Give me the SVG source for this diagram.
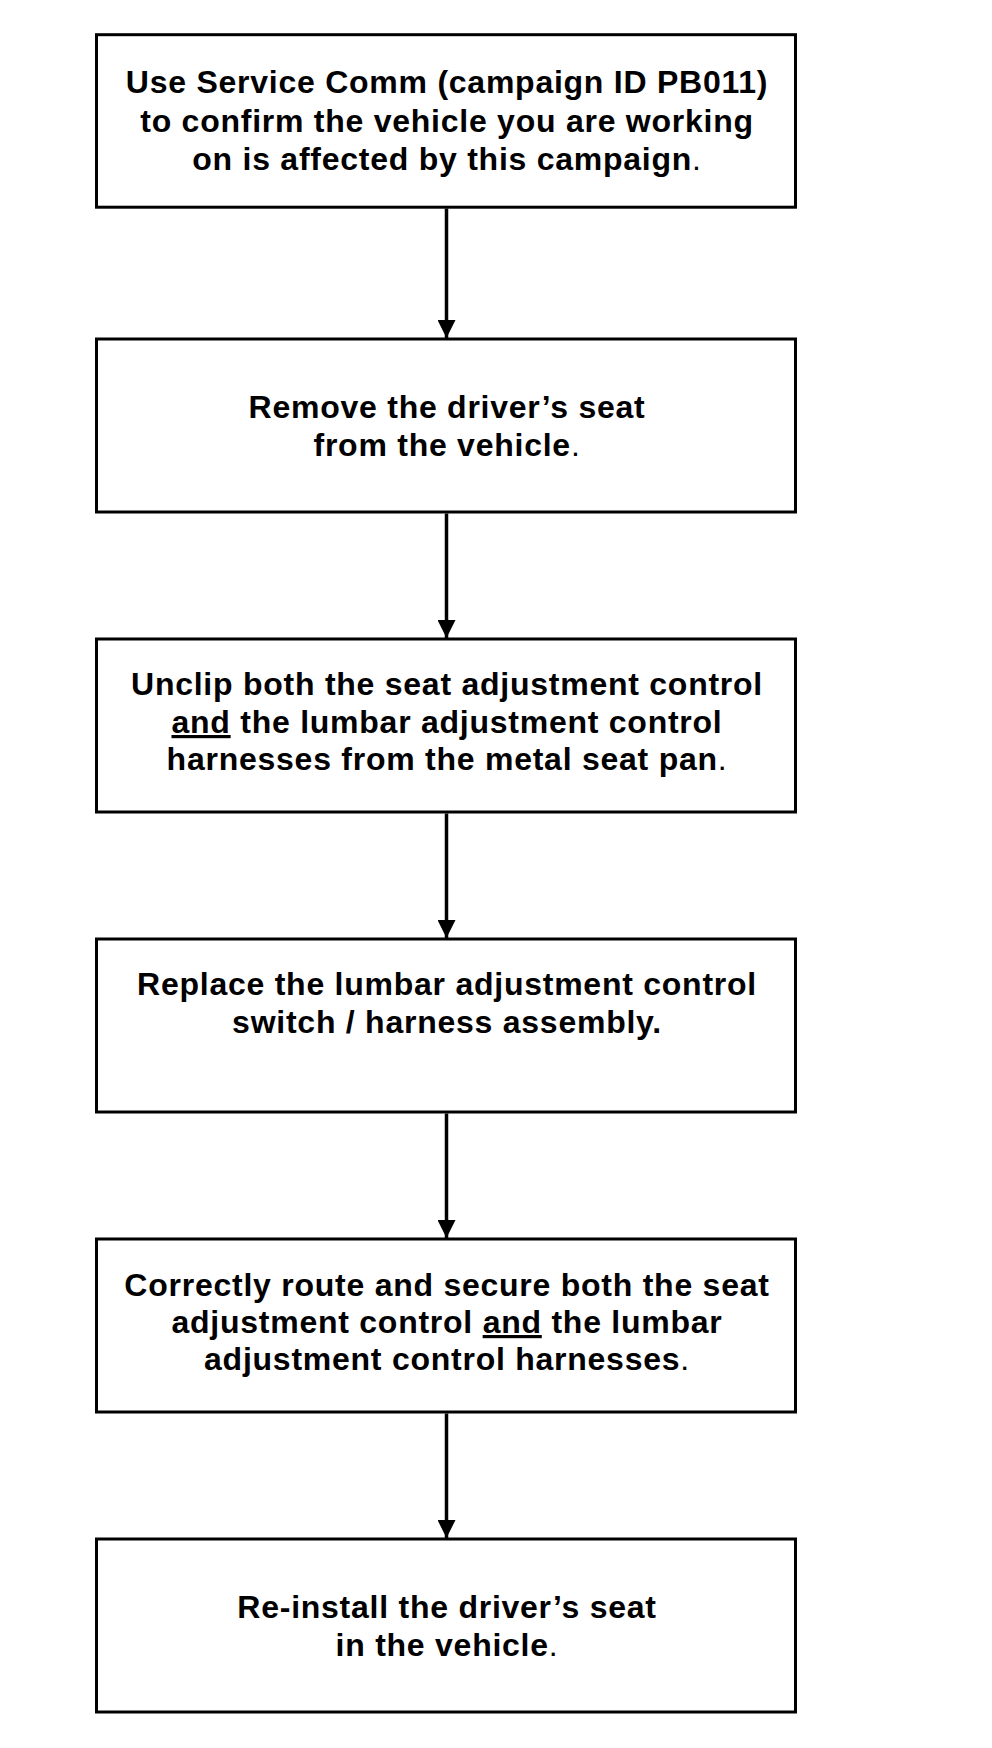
<svg xmlns="http://www.w3.org/2000/svg" width="992" height="1748" viewBox="0 0 992 1748">
<style>
.box{fill:#fff;stroke:#000;stroke-width:3}
.t{font-family:"Liberation Sans",Arial,sans-serif;font-weight:bold;font-size:32px;letter-spacing:0.75px;text-anchor:middle;fill:#000}
.n{font-weight:normal}
.u{text-decoration:underline}
.c{stroke:#000;stroke-width:3.5;fill:none;marker-end:url(#ah)}
</style>
<defs>
<marker id="ah" markerUnits="userSpaceOnUse" markerWidth="18" markerHeight="18" refX="18" refY="9" orient="auto">
<path d="M0,0 L18,9 L0,18 z" fill="#000"/>
</marker>
</defs>
<rect width="992" height="1748" fill="#fff"/>
<g id="connectors">
<line class="c" x1="446.5" y1="208.5" x2="446.5" y2="338"/>
<line class="c" x1="446.5" y1="513.5" x2="446.5" y2="638"/>
<line class="c" x1="446.5" y1="813.5" x2="446.5" y2="938"/>
<line class="c" x1="446.5" y1="1113.5" x2="446.5" y2="1238"/>
<line class="c" x1="446.5" y1="1413.5" x2="446.5" y2="1538"/>
</g>
<g id="n1">
<rect class="box" x="96.5" y="34.7" width="699" height="172.5"/>
<text class="t" x="447" y="93">Use Service Comm (campaign ID PB011)</text>
<text class="t" x="447" y="131.5">to confirm the vehicle you are working</text>
<text class="t" x="447" y="170">on is affected by this campaign<tspan class="n">.</tspan></text>
</g>
<g id="n2">
<rect class="box" x="96.5" y="339" width="699" height="173"/>
<text class="t" x="447" y="418">Remove the driver’s seat</text>
<text class="t" x="447" y="456">from the vehicle<tspan class="n">.</tspan></text>
</g>
<g id="n3">
<rect class="box" x="96.5" y="639" width="699" height="173"/>
<text class="t" x="447" y="695">Unclip both the seat adjustment control</text>
<text class="t" x="447" y="733"><tspan class="u">and</tspan> the lumbar adjustment control</text>
<text class="t" x="447" y="770">harnesses from the metal seat pan<tspan class="n">.</tspan></text>
</g>
<g id="n4">
<rect class="box" x="96.5" y="939" width="699" height="173"/>
<text class="t" x="447" y="995">Replace the lumbar adjustment control</text>
<text class="t" x="447" y="1033">switch / harness assembly.</text>
</g>
<g id="n5">
<rect class="box" x="96.5" y="1239" width="699" height="173"/>
<text class="t" x="447" y="1296">Correctly route and secure both the seat</text>
<text class="t" x="447" y="1333">adjustment control <tspan class="u">and</tspan> the lumbar</text>
<text class="t" x="447" y="1370">adjustment control harnesses<tspan class="n">.</tspan></text>
</g>
<g id="n6">
<rect class="box" x="96.5" y="1539" width="699" height="173"/>
<text class="t" x="447" y="1618">Re-install the driver’s seat</text>
<text class="t" x="447" y="1656">in the vehicle<tspan class="n">.</tspan></text>
</g>
</svg>
